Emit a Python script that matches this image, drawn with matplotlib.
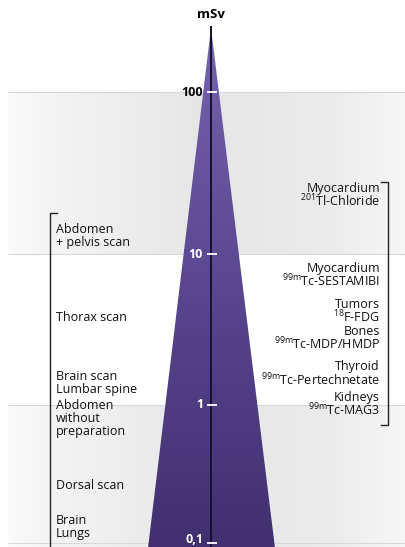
import numpy as np
import matplotlib
matplotlib.use('Agg')
import matplotlib.pyplot as plt
from matplotlib.colors import LinearSegmentedColormap
from matplotlib.patches import Polygon

plt.rcParams['font.family'] = ['Open Sans', 'DejaVu Sans']
plt.rcParams['mathtext.fontset'] = 'custom'
plt.rcParams['mathtext.rm'] = 'Open Sans'
plt.rcParams['font.size'] = 9

# dose scale (mSv)
decade_values = [0.1, 1, 10, 100]
decade_labels = ['0,1', '1', '10', '100']

# radiology exams (left) and nuclear medicine exams (right), approx. dose in mSv
left_exams = ['Abdomen\n+ pelvis scan', 'Thorax scan', 'Brain scan\nLumbar spine',
              'Abdomen\nwithout\npreparation', 'Dorsal scan', 'Brain\nLungs']
left_doses = [13, 3.8, 1.4, 0.8, 0.26, 0.13]
left_range = [0.05, 18]

right_exams = [r'Myocardium' + '\n' + r'$^{\mathrm{201}}$Tl-Chloride',
               r'Myocardium' + '\n' + r'$^{\mathrm{99m}}$Tc-SESTAMIBI',
               r'Tumors' + '\n' + r'$^{\mathrm{18}}$F-FDG',
               r'Bones' + '\n' + r'$^{\mathrm{99m}}$Tc-MDP/HMDP',
               r'Thyroid' + '\n' + r'$^{\mathrm{99m}}$Tc-Pertechnetate',
               r'Kidneys' + '\n' + r'$^{\mathrm{99m}}$Tc-MAG3']
right_doses = [23, 7.2, 4.15, 2.75, 1.6, 1.0]
right_range = [0.72, 28]

# the drawing spaces the decades unevenly, map log10(dose) -> pixel row
LOG_KNOTS = np.array([-1.5, -1, 0, 1, 2, 3])
ROW_KNOTS = np.array([612, 543, 405, 254, 92, -70])


def forward(v):
    v = np.clip(v, 1e-6, None)
    return -np.interp(np.log10(v), LOG_KNOTS, ROW_KNOTS)


def inverse(u):
    return 10 ** np.interp(u, -ROW_KNOTS, LOG_KNOTS)


def row_dose(r):
    return inverse(-np.asarray(r, dtype=float))


fig = plt.figure(figsize=(4.05, 5.47), dpi=100)
ax = fig.add_axes([0, 0, 1, 1])
ax.set_yscale('function', functions=(forward, inverse))
ax.set_xlim(0, 405)
ax.set_ylim(row_dose(547), row_dose(0))
ax.axis('off')

# grey bands with a horizontal gradient
xe = np.linspace(8, 405, 160)
xc = (xe[:-1] + xe[1:]) / 2
shade = np.interp(xc, [8, 60, 200, 330, 405], [0.98, 0.95, 0.9, 0.92, 0.965])
for lo, hi in [(10, 100), (0.05, 1)]:
    ax.pcolormesh(xe, [lo, hi], shade[None, :], cmap='gray', vmin=0, vmax=1,
                  shading='flat', zorder=0)
ax.hlines(decade_values, 8, 405, color='#d8d8d8', lw=0.8, zorder=1)

# the purple pyramid
tri = Polygon([(211, row_dose(28)), (147.5, row_dose(548)), (274.5, row_dose(548))],
              closed=True, transform=ax.transData, facecolor='none', edgecolor='none')
ax.add_patch(tri)
purple = LinearSegmentedColormap.from_list('purple', ['#7464ad', '#58468f', '#40306f'])
rows = np.linspace(26, 548, 90)
grad = np.linspace(0, 1, len(rows) - 1)[:, None]
mesh = ax.pcolormesh([140, 282], row_dose(rows), grad, cmap=purple, shading='flat', zorder=2)
mesh.set_clip_path(tri)

# axis line, ticks and labels
ax.plot([211, 211], [row_dose(27), row_dose(548)], color='#15122a', lw=1.4, zorder=3)
ax.hlines(decade_values, 207, 217, color='white', lw=1.3, zorder=4)
for v, lab in zip(decade_values, decade_labels):
    if v == decade_values[0]:
        # lowest label sits on the bottom edge
        ax.text(203, row_dose(546), lab, ha='right', va='bottom', fontweight='bold',
                color='white', zorder=5)
    else:
        ax.text(203, v, lab, ha='right', va='center', fontweight='bold',
                color='black' if v == 100 else 'white', zorder=5)
ax.text(211, row_dose(14), 'mSv', ha='center', va='center', fontweight='bold', fontsize=9.5)

# brackets
ax.plot([57, 50, 50], [left_range[1], left_range[1], left_range[0]], color='#222222', lw=1)
ax.plot([381, 388, 388, 381], [right_range[1], right_range[1], right_range[0], right_range[0]],
        color='#222222', lw=1)

for name, d in zip(left_exams, left_doses):
    ax.text(56, d, name, ha='left', va='center', linespacing=1.0, color='#111111')
for name, d in zip(right_exams, right_doses):
    ax.text(380, d, name, ha='right', va='center', multialignment='right',
            linespacing=0.85, color='#111111')

fig.savefig('out.png', dpi=100)
